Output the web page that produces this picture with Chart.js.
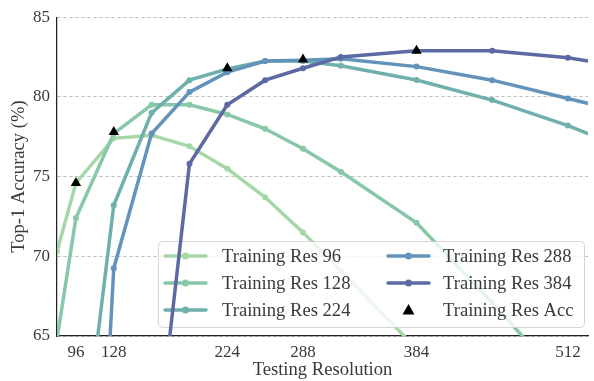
<!DOCTYPE html>
<html><head><meta charset="utf-8">
<script src="https://cdn.jsdelivr.net/npm/chart.js@4.4.0/dist/chart.umd.min.js"></script>
<style>html,body{margin:0;padding:0;background:#fff;overflow:hidden}#wrap{width:594px;height:381px;position:relative}</style>
</head><body><div id="wrap"><canvas id="c"></canvas></div>
<script>
const testRes = [80, 96, 128, 160, 192, 224, 256, 288, 320, 384, 448, 512, 576];
const res96  = [70.3, 74.6, 77.4, 77.6, 76.9, 75.5, 73.7, 71.5, 69.1, 64.2, null, null, null];
const res128 = [64.8, 72.4, 77.7, 79.5, 79.5, 78.9, 78.0, 76.75, 75.3, 72.1, 67.1, 61.8, null];
const res224 = [null, 53.8, 73.2, 79.0, 81.05, 81.75, 82.25, 82.25, 81.95, 81.06, 79.8, 78.2, 76.3];
const res288 = [null, 25.0, 69.25, 77.7, 80.3, 81.55, 82.25, 82.3, 82.4, 81.9, 81.05, 79.9, 78.75];
const res384 = [null, null, null, 55.0, 75.8, 79.5, 81.05, 81.8, 82.5, 82.9, 82.9, 82.45, 81.7];
const trainRes = [96, 128, 224, 288, 384];
const trainAcc = [74.6, 77.8, 81.8, 82.35, 82.9];
const xTicks = [96, 128, 224, 288, 384, 512];
const yTicks = [65, 70, 75, 80, 85];
const seriesLabels = ['Training Res 96', 'Training Res 128', 'Training Res 224', 'Training Res 288', 'Training Res 384'];
const accLabel = 'Training Res Acc';
const colors = ['#a6d7a9', '#88c7a7', '#6fb0ad', '#6393ba', '#5d69a2'];

const FONT = "'Liberation Serif', 'DejaVu Serif', serif";
const TXT = '#3a3a3a';

function toPts(vals){ return testRes.map((x,i)=>({x:x, y:vals[i]})); }
const seriesVals = [res96, res128, res224, res288, res384];
const datasets = seriesVals.map((v,i)=>({
  label: seriesLabels[i],
  data: toPts(v),
  borderColor: colors[i],
  backgroundColor: colors[i],
  borderWidth: 3.5,
  pointRadius: 3,
  pointBorderWidth: 0,
  pointHoverRadius: 3,
  pointBackgroundColor: colors[i],
  tension: 0,
  spanGaps: false,
  order: 5 - i
}));
datasets.push({
  label: accLabel,
  data: trainRes.map((x,i)=>({x:x, y:trainAcc[i]})),
  showLine: false,
  pointStyle: 'triangle',
  pointRadius: 6,
  pointBorderWidth: 0,
  pointBackgroundColor: '#000',
  borderColor: '#000',
  backgroundColor: '#000',
  order: 0
});

const legendPlugin = {
  id: 'customLegend',
  beforeDatasetDraw(chart, args) {
    if (chart.data.datasets[args.index].label !== seriesLabels[4]) return;
    const ctx = chart.ctx;
    ctx.save();
    const bx = 158, by = 241, bw = 426, bh = 86, r = 4;
    ctx.beginPath();
    ctx.roundRect(bx + 0.5, by + 0.5, bw, bh, r);
    ctx.fillStyle = 'rgba(255,255,255,0.8)';
    ctx.fill();
    ctx.strokeStyle = 'rgba(204,204,204,0.8)';
    ctx.lineWidth = 1;
    ctx.stroke();
    const items = [
      {label: seriesLabels[0], color: colors[0], col: 0, row: 0},
      {label: seriesLabels[1], color: colors[1], col: 0, row: 1},
      {label: seriesLabels[2], color: colors[2], col: 0, row: 2},
      {label: seriesLabels[3], color: colors[3], col: 1, row: 0},
      {label: seriesLabels[4], color: colors[4], col: 1, row: 1},
      {label: accLabel, color: '#000', col: 1, row: 2, tri: true}
    ];
    const colX = [165, 388];
    const rowY = [256, 283, 310];
    ctx.font = "18.6px " + FONT;
    ctx.textBaseline = 'middle';
    items.forEach(it => {
      const x0 = colX[it.col], y = rowY[it.row];
      if (it.tri) {
        ctx.fillStyle = '#000';
        ctx.beginPath();
        ctx.moveTo(x0 + 20.5, y - 6);
        ctx.lineTo(x0 + 26.5, y + 4.5);
        ctx.lineTo(x0 + 14.5, y + 4.5);
        ctx.closePath();
        ctx.fill();
      } else {
        ctx.strokeStyle = it.color;
        ctx.lineWidth = 3.5;
        ctx.lineCap = 'round';
        ctx.beginPath();
        ctx.moveTo(x0, y); ctx.lineTo(x0 + 41, y); ctx.stroke();
        ctx.fillStyle = it.color;
        ctx.beginPath(); ctx.arc(x0 + 20.5, y, 3.5, 0, Math.PI * 2); ctx.fill();
      }
      ctx.fillStyle = TXT;
      ctx.fillText(it.label, x0 + (it.col === 0 ? 57 : 55), y + 1);
    });
    ctx.restore();
  }
};

new Chart(document.getElementById('c'), {
  type: 'line',
  data: { datasets: datasets },
  plugins: [legendPlugin],
  options: {
    responsive: true,
    maintainAspectRatio: false,
    animation: false,
    events: [],
    layout: { padding: { top: 16, right: 0, left: 0, bottom: 0 } },
    plugins: { legend: { display: false }, tooltip: { enabled: false } },
    scales: {
      x: {
        type: 'linear',
        min: 80, max: 529,
        afterBuildTicks: s => { s.ticks = xTicks.map(v => ({value: v})); },
        afterFit: s => { s.height = 45; },
        grid: { display: false, drawTicks: false },
        border: { display: true, color: '#222', width: 1.25 },
        ticks: { color: TXT, font: { family: FONT, size: 17 }, padding: 6, maxRotation: 0, autoSkip: false },
        title: { display: true, text: 'Testing Resolution', color: TXT, font: { family: FONT, size: 18.6 }, padding: { top: 0, bottom: 0 } }
      },
      y: {
        type: 'linear',
        min: 65, max: 85,
        afterBuildTicks: s => { s.ticks = yTicks.map(v => ({value: v})); },
        afterFit: s => { s.width = 57; },
        grid: { color: '#b0b0b0', lineWidth: 0.8, drawTicks: false },
        border: { display: true, color: '#222', width: 1.25, dash: [3.5, 2.5] },
        ticks: { color: TXT, font: { family: FONT, size: 17 }, padding: 7 },
        title: { display: true, text: 'Top-1 Accuracy (%)', color: TXT, font: { family: FONT, size: 18.6 }, padding: { top: 8, bottom: 0 } }
      }
    }
  }
});
</script></body></html>
